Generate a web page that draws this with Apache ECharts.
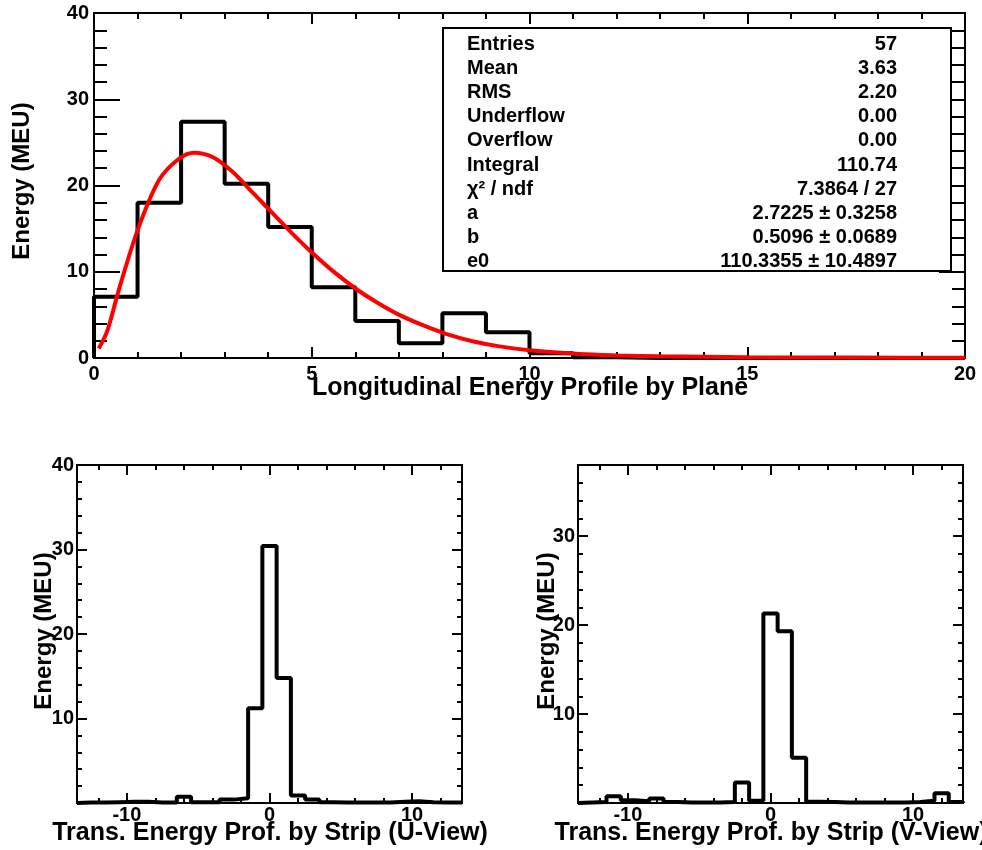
<!DOCTYPE html>
<html>
<head>
<meta charset="utf-8">
<script src="https://cdn.jsdelivr.net/npm/echarts@6/dist/echarts.min.js"></script>
<style>
html,body{margin:0;padding:0;background:#fff;}
#chart{width:982px;height:850px;}
</style>
</head>
<body>
<div id="chart"></div>
<script>
// ---------------- DATA ----------------
// Longitudinal profile: bins of width 1 from 0 to 20
const longBinEdges = [0,1,2,3,4,5,6,7,8,9,10,11,12,13,14,15,16,17,18,19,20];
const longValues   = [7.1,18.0,27.4,20.2,15.2,8.2,4.3,1.7,5.2,3.0,0.55,0.1,0,0,0,0,0,0,0,0];
// Fit curve, points
const fitX = [0.11,0.31,0.57,1.0,1.49,1.95,2.3,2.72,3.18,3.64,4.1,4.56,5.01,5.48,6.02,6.48,7.01,7.55,8.08,8.69,9.31,10.0,11.15,12,13,15,17.5,20];
const fitY = [1.1,3.2,7.9,14.8,20.6,23.1,23.8,23.3,21.6,19.2,16.8,14.4,12.2,10.1,8.0,6.5,5.0,3.8,2.8,1.95,1.35,0.9,0.45,0.3,0.2,0.1,0.05,0.03];
// Transverse profiles: bins centred on strips -13..13
const stripCenters = [-13,-12,-11,-10,-9,-8,-7,-6,-5,-4,-3,-2,-1,0,1,2,3,4,5,6,7,8,9,10,11,12,13];
const uValues = [0.05,0.05,0.1,0.15,0.15,0.05,0.05,0.75,0.1,0.1,0.4,0.55,11.2,30.4,14.8,0.9,0.4,0.1,0.05,0.05,0.05,0.05,0.15,0.2,0.1,0.05,0.05];
const vValues = [0.05,0.1,0.75,0.3,0.2,0.5,0.1,0.05,0.05,0.05,0.1,2.3,0.25,21.3,19.3,5.1,0.15,0.1,0.05,0.05,0.05,0.05,0.05,0.1,0.25,1.1,0.1];

// Tick values / labels
const topXMajor = [0,5,10,15,20];
const topXMinor = [1,2,3,4,6,7,8,9,11,12,13,14,16,17,18,19];
const topYMajor = [0,10,20,30,40];
const topYMinor = [2,4,6,8,12,14,16,18,22,24,26,28,32,34,36,38];
const stripMajor = [-10,0,10];
const stripMinor = [-12,-8,-6,-4,-2,2,4,6,8,12];
const uYMajor = [0,10,20,30,40];
const uYLabels = [10,20,30,40];
const uYMinor = [2,4,6,8,12,14,16,18,22,24,26,28,32,34,36,38];
const vYMajor = [0,10,20,30];
const vYLabels = [10,20,30];
const vYMinor = [2,4,6,8,12,14,16,18,22,24,26,28,32,34,36];

// Stats box
const statNames  = ['Entries','Mean','RMS','Underflow','Overflow','Integral','\u03C7\u00B2 / ndf','a','b','e0'];
const statValues = ['57','3.63','2.20','0.00','0.00','110.74','7.3864 / 27','2.7225 \u00B1 0.3258','0.5096 \u00B1 0.0689','110.3355 \u00B1 10.4897'];

// Titles
const titleLong = 'Longitudinal Energy Profile by Plane';
const titleU = 'Trans. Energy Prof. by Strip (U-View)';
const titleV = 'Trans. Energy Prof. by Strip (V-View)';
const titleY = 'Energy (MEU)';

// ---------------- BUILD ----------------
const FONT = 'Liberation Sans';
function histPoints(lows, highs, vals){
  const pts = [[lows[0],0]];
  for (let i=0;i<vals.length;i++){ pts.push([lows[i],vals[i]]); pts.push([highs[i],vals[i]]); }
  pts.push([highs[highs.length-1],0]);
  return pts;
}
const longLows = longBinEdges.slice(0,-1), longHighs = longBinEdges.slice(1);
const stripLows = stripCenters.map(c=>c-0.5), stripHighs = stripCenters.map(c=>c+0.5);

const xAxes = [], yAxes = [];
function addAxes(list, dim, grid, min, max, majors, minors, labels, majLen, minLen, labelMargin){
  const primary = dim==='x' ? 'bottom' : 'left';
  const mirror  = dim==='x' ? 'top' : 'right';
  const mk = (pos, ticks, len, lbl) => ({
    type:'value', gridIndex:grid, min:min, max:max, position:pos,
    splitLine:{show:false},
    axisLine:{show:false, onZero:false},
    axisTick:{show:true, inside:true, customValues:ticks, length:len, lineStyle:{color:'#000', width:2}},
    axisLabel: lbl ? {show:true, customValues:lbl, margin:labelMargin, color:'#000', fontFamily:FONT, fontWeight:'bold', fontSize:20}
                   : {show:false}
  });
  const idx = list.length;
  list.push(mk(primary, majors, majLen, labels));
  list.push(mk(primary, minors, minLen, null));
  list.push(mk(mirror, majors, majLen, null));
  list.push(mk(mirror, minors, minLen, null));
  return idx;
}

const grids = [
  {left:94, top:13, width:871, height:345},
  {left:77, top:465, width:385, height:338},
  {left:578, top:465, width:385, height:338}
].map(g => Object.assign(g, {show:true, borderColor:'#000', borderWidth:2, backgroundColor:'transparent'}));

const x0 = addAxes(xAxes,'x',0,0,20,topXMajor,topXMinor,topXMajor,11,6,6);
const y0 = addAxes(yAxes,'y',0,0,40,topYMajor,topYMinor,topYMajor,26,13,5);
const x1 = addAxes(xAxes,'x',1,-13.5,13.5,stripMajor,stripMinor,stripMajor,10,5,2);
const y1 = addAxes(yAxes,'y',1,0,40,uYMajor,uYMinor,uYLabels,10,5,3);
const x2 = addAxes(xAxes,'x',2,-13.5,13.5,stripMajor,stripMinor,stripMajor,10,5,2);
const y2 = addAxes(yAxes,'y',2,0,38,vYMajor,vYMinor,vYLabels,10,5,3);

const histStyle = {color:'#000', width:4};
const series = [
  {type:'line', xAxisIndex:x0, yAxisIndex:y0, data:histPoints(longLows,longHighs,longValues), showSymbol:false, lineStyle:histStyle, z:3},
  {type:'line', xAxisIndex:x0, yAxisIndex:y0, data:fitX.map((x,i)=>[x,fitY[i]]), smooth:0.3, showSymbol:false, lineStyle:{color:'#ff0000', width:4}, z:4},
  {type:'line', xAxisIndex:x1, yAxisIndex:y1, data:histPoints(stripLows,stripHighs,uValues), showSymbol:false, lineStyle:histStyle, z:3},
  {type:'line', xAxisIndex:x2, yAxisIndex:y2, data:histPoints(stripLows,stripHighs,vValues), showSymbol:false, lineStyle:histStyle, z:3}
];

const txt = (text, x, y, size, opts) => Object.assign({
  type:'text', x:x, y:y, z:100,
  style:{text:text, fill:'#000', font:'bold '+size+'px "'+FONT+'"', textAlign:'center', textVerticalAlign:'middle'}
}, opts||{});

const graphics = [];
// stats box
graphics.push({type:'rect', z:90, shape:{x:443, y:28, width:508, height:243}, style:{fill:'#fff', stroke:'#000', lineWidth:2}});
statNames.forEach((n,i)=>{
  const yy = 44 + i*24.2;
  graphics.push({type:'text', x:467, y:yy, z:100, style:{text:n, fill:'#000', font:'bold 20px "'+FONT+'"', textAlign:'left', textVerticalAlign:'middle'}});
  graphics.push({type:'text', x:897, y:yy, z:100, style:{text:statValues[i], fill:'#000', font:'bold 20px "'+FONT+'"', textAlign:'right', textVerticalAlign:'middle'}});
});
// titles
graphics.push(txt(titleLong, 530, 388, 25));
graphics.push(txt(titleY, 22, 181, 24, {rotation:Math.PI/2}));
graphics.push(txt(titleU, 270, 833, 25));
graphics.push(txt(titleY, 44, 631, 24, {rotation:Math.PI/2}));
graphics.push(txt(titleV, 771, 833, 25));
graphics.push(txt(titleY, 547, 631, 24, {rotation:Math.PI/2}));

const chart = echarts.init(document.getElementById('chart'), null, {renderer:'canvas'});
chart.setOption({
  backgroundColor:'#fff',
  animation:false,
  grid:grids,
  xAxis:xAxes,
  yAxis:yAxes,
  series:series,
  graphic:graphics
});
</script>
</body>
</html>
